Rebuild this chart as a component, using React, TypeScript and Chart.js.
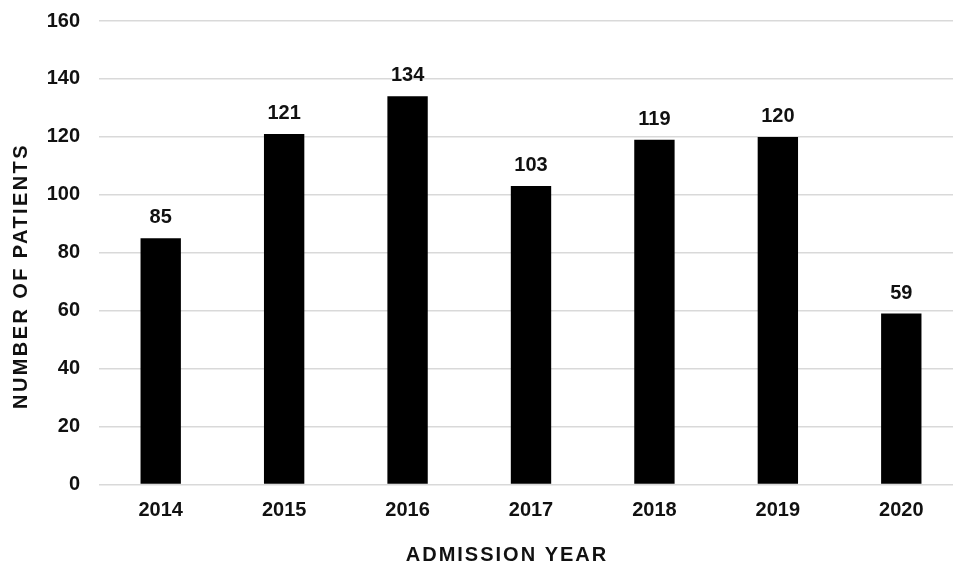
import React, { useEffect, useRef } from "react";
import { Chart, registerables } from "chart.js";

Chart.register(...registerables);

const years = ["2014", "2015", "2016", "2017", "2018", "2019", "2020"];
const patients = [85, 121, 134, 103, 119, 120, 59];
const yTicks = [0, 20, 40, 60, 80, 100, 120, 140, 160];
const xTitle = "ADMISSION YEAR";
const yTitle = "NUMBER OF PATIENTS";

const FONT = "'Liberation Sans', Arial, Helvetica, sans-serif";

const labelsPlugin = {
  id: "barLabels",
  afterDatasetsDraw(chart: any) {
    const ctx = chart.ctx;
    const meta = chart.getDatasetMeta(0);
    ctx.save();
    ctx.font = `bold 20px ${FONT}`;
    ctx.fillStyle = "#111";
    ctx.textAlign = "center";
    ctx.textBaseline = "alphabetic";
    meta.data.forEach((bar: any, i: number) => {
      ctx.fillText(String(patients[i]), bar.x, bar.y - 15);
    });
    ctx.restore();
  },
};

const titlesPlugin = {
  id: "axisTitles",
  afterDraw(chart: any) {
    const ctx = chart.ctx;
    ctx.save();
    ctx.font = `bold 20px ${FONT}`;
    (ctx as any).letterSpacing = "2px";
    ctx.fillStyle = "#111";
    ctx.textAlign = "center";
    ctx.textBaseline = "middle";
    ctx.fillText(xTitle, 507, 555);
    (ctx as any).letterSpacing = "2.4px";
    ctx.translate(21, 276);
    ctx.rotate(-Math.PI / 2);
    ctx.fillText(yTitle, 0, 0);
    ctx.restore();
  },
};

export default function App() {
  const ref = useRef<HTMLCanvasElement>(null);
  useEffect(() => {
    if (!ref.current) return;
    const chart = new Chart(ref.current, {
      type: "bar",
      data: {
        labels: years,
        datasets: [
          {
            data: patients,
            backgroundColor: "#000",
            borderWidth: 0,
            categoryPercentage: 1,
            barPercentage: 0.327,
          },
        ],
      },
      options: {
        responsive: false,
        animation: false,
        layout: { padding: { top: 21, right: 0, left: 0, bottom: 0 } },
        plugins: { legend: { display: false }, tooltip: { enabled: false } },
        scales: {
          x: {
            grid: { display: false, drawTicks: false },
            border: { display: false },
            ticks: {
              color: "#111",
              font: { family: FONT, size: 20, weight: "bold" },
              padding: 14,
            },
            afterFit: (s: any) => {
              s.height = 566 - 484.5;
              s.paddingLeft = 0;
              s.paddingRight = 0;
            },
          },
          y: {
            min: 0,
            max: 160,
            afterBuildTicks: (s: any) => {
              s.ticks = yTicks.map((v) => ({ value: v }));
            },
            grid: { color: "#d9d9d9", lineWidth: 1.5, drawTicks: false },
            border: { display: false },
            ticks: {
              color: "#111",
              font: { family: FONT, size: 20, weight: "bold" },
              padding: 19,
            },
            afterFit: (s: any) => {
              s.width = 99;
              s.paddingTop = 0;
              s.paddingBottom = 0;
            },
          },
        },
      },
      plugins: [labelsPlugin, titlesPlugin],
    });
    return () => chart.destroy();
  }, []);
  return (
    <div
      style={{
        position: "fixed",
        left: 0,
        top: 0,
        width: 953,
        height: 566,
        overflow: "hidden",
        background: "#fff",
      }}
    >
      <canvas ref={ref} width={963} height={566} style={{ display: "block" }} />
    </div>
  );
}
